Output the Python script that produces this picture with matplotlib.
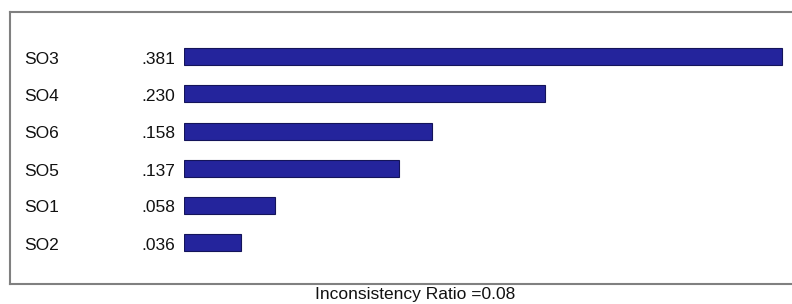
import matplotlib
matplotlib.use("Agg")
import matplotlib.pyplot as plt
import matplotlib.transforms as mtransforms
from matplotlib.lines import Line2D

categories = ["SO3", "SO4", "SO6", "SO5", "SO1", "SO2"]
weights = [0.381, 0.230, 0.158, 0.137, 0.058, 0.036]
value_labels = [".381", ".230", ".158", ".137", ".058", ".036"]
footer = "Inconsistency Ratio =0.08"

plt.rcParams['font.family'] = ['Liberation Sans', 'DejaVu Sans']

W, H = 792, 304
fig = plt.figure(figsize=(W / 100, H / 100), dpi=100)

def px(x0, y0, x1, y1):
    return [x0 / W, 1 - y1 / H, (x1 - x0) / W, (y1 - y0) / H]

ax_left, ax_right, ax_top, ax_bot = 184, 790, 12, 284
ax = fig.add_axes(px(ax_left, ax_top, ax_right, ax_bot))
ax.set_axis_off()
scale = 1570.0  # px per unit
row_px = 37.0
first_row = 57.0
ax.set_xlim(0, (ax_right - ax_left) / scale)
ax.set_ylim((ax_bot - first_row) / row_px, -(first_row - ax_top) / row_px)

ypos = list(range(len(categories)))
ax.barh(ypos, weights, height=17 / row_px, left=0, color="#24249c",
        edgecolor="#14145a", linewidth=0.8)

trans = mtransforms.blended_transform_factory(fig.transFigure, ax.transData)
dy = 3 / row_px
for y, cat, lab in zip(ypos, categories, value_labels):
    ax.text(24 / W, y + dy, cat, transform=trans, ha="left", va="center",
            fontsize=12.5, color="#111111", clip_on=False)
    ax.text(175 / W, y + dy, lab, transform=trans, ha="right", va="center",
            fontsize=12.5, color="#111111", clip_on=False)

# box border (left, top, bottom; right side runs off the image)
lc = "#808080"
fig.add_artist(Line2D([10 / W, 10 / W], [1 - 12 / H, 1 - 284 / H], color=lc, lw=1.5,
                      transform=fig.transFigure))
fig.add_artist(Line2D([10 / W, 1.0], [1 - 12 / H, 1 - 12 / H], color=lc, lw=1.5,
                      transform=fig.transFigure))
fig.add_artist(Line2D([10 / W, 1.0], [1 - 284 / H, 1 - 284 / H], color=lc, lw=1.5,
                      transform=fig.transFigure))

fig.text(415 / W, 1 - 295 / H, footer, ha="center", va="center",
         fontsize=12.5, color="#111111")

fig.savefig("out.png", dpi=100, facecolor="white")
